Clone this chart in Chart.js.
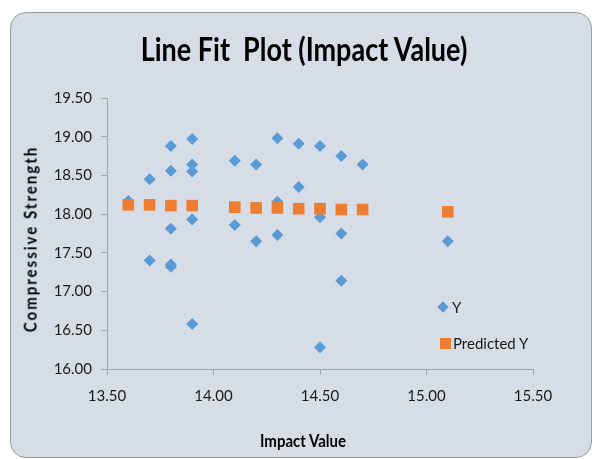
<!DOCTYPE html>
<html lang="en">
<head>
    <meta charset="UTF-8">
    <title>Line Fit Plot (Impact Value)</title>
    <script src="https://cdn.jsdelivr.net/npm/chart.js"></script>
    <style>
        body {
            margin: 0;
            background: #ffffff;
            font-family: Lato, "Open Sans", sans-serif;
        }

        #panel {
            position: absolute;
            left: 10px;
            top: 12px;
            width: 580px;
            height: 444px;
            background: #d6dde7;
            border: 1px solid #9c9c9c;
            border-radius: 16px;
        }

        #wrap {
            position: absolute;
            left: 0;
            top: 0;
            width: 592px;
            height: 459px;
        }

        .txt {
            position: absolute;
            white-space: nowrap;
            font-weight: bold;
            color: #000000;
        }

        #title {
            left: 304px;
            top: 48px;
            font-size: 27px;
            transform: translate(-50%, -50%) scale(1, 1.2);
        }

        #xtitle {
            left: 303px;
            top: 440px;
            font-size: 15px;
            transform: translate(-50%, -50%) scale(1, 1.15);
        }

        #ytitle {
            left: 30px;
            top: 239px;
            font-size: 15px;
            letter-spacing: 2px;
            transform: translate(-50%, -50%) rotate(-90deg) scale(1, 1.15);
        }

        .legend {
            position: absolute;
            font-size: 15px;
            color: #1a1a1a;
            line-height: 18px;
        }

        .diamond {
            position: absolute;
            width: 8px;
            height: 8px;
            background: #5b9bd5;
            transform: rotate(45deg);
        }

        .square {
            position: absolute;
            width: 11px;
            height: 11px;
            background: #ed7d31;
        }
    </style>
</head>
<body>
    <div id="panel"></div>
    <div id="wrap"><canvas id="scatter" width="592" height="459"></canvas></div>

    <div class="txt" id="title">Line Fit&nbsp; Plot (Impact Value)</div>
    <div class="txt" id="xtitle">Impact Value</div>
    <div class="txt" id="ytitle">Compressive Strength</div>

    <div class="diamond" style="left: 439px; top: 303px;"></div>
    <div class="legend" style="left: 452px; top: 298px;">Y</div>
    <div class="square" style="left: 440px; top: 338px;"></div>
    <div class="legend" style="left: 453px; top: 334px;">Predicted Y</div>

    <script type="text/javascript">

        // observed points
        const impactX = [13.6, 13.7, 13.7, 13.8, 13.8, 13.8, 13.8, 13.8, 13.9, 13.9, 13.9, 13.9, 13.9,
            14.1, 14.1, 14.2, 14.2, 14.3, 14.3, 14.3, 14.4, 14.4, 14.5, 14.5, 14.5,
            14.6, 14.6, 14.6, 14.7, 15.1];
        const strengthY = [18.17, 18.45, 17.40, 18.88, 18.56, 17.81, 17.35, 17.32, 18.97, 18.64, 18.55, 17.93, 16.58,
            18.69, 17.86, 18.64, 17.65, 18.98, 18.16, 17.73, 18.91, 18.35, 18.88, 17.96, 16.28,
            18.75, 17.75, 17.14, 18.64, 17.65];

        // fitted line
        const predX = [13.6, 13.7, 13.8, 13.9, 14.1, 14.2, 14.3, 14.4, 14.5, 14.6, 14.7, 15.1];
        const predY = [18.12, 18.12, 18.11, 18.11, 18.09, 18.08, 18.08, 18.07, 18.07, 18.06, 18.06, 18.03];

        const xTicks = [13.5, 14.0, 14.5, 15.0, 15.5];
        const yTicks = [16.0, 16.5, 17.0, 17.5, 18.0, 18.5, 19.0, 19.5];

        const toPoints = (xs, ys) => xs.map((x, i) => ({ x: x, y: ys[i] }));

        var ctx = document.getElementById('scatter').getContext('2d');
        var myChart = new Chart(ctx, {
            type: 'scatter',
            data: {
                datasets: [{
                    label: 'Predicted Y',
                    data: toPoints(predX, predY),
                    pointStyle: 'rect',
                    pointRadius: 8.2,
                    pointHoverRadius: 8.2,
                    backgroundColor: '#ed7d31',
                    borderWidth: 0,
                    order: 1
                }, {
                    label: 'Y',
                    data: toPoints(impactX, strengthY),
                    pointStyle: 'rectRot',
                    pointRadius: 6,
                    pointHoverRadius: 6,
                    backgroundColor: '#5b9bd5',
                    borderWidth: 0,
                    order: 2
                }]
            },
            options: {
                responsive: false,
                animation: false,
                layout: { padding: { left: 0, right: 59, top: 98, bottom: 0 } },
                plugins: {
                    legend: { display: false },
                    tooltip: { enabled: false }
                },
                scales: {
                    x: {
                        type: 'linear',
                        min: 13.5,
                        max: 15.5,
                        afterBuildTicks: s => { s.ticks = xTicks.map(v => ({ value: v })); },
                        afterFit: s => { s.height = 90; },
                        grid: { drawOnChartArea: false, tickLength: 6, color: '#a6a6a6' },
                        border: { color: '#a6a6a6' },
                        ticks: {
                            padding: 12,
                            color: '#1a1a1a',
                            font: { family: 'Lato', size: 15 },
                            callback: v => Number(v).toFixed(2)
                        }
                    },
                    y: {
                        type: 'linear',
                        min: 16,
                        max: 19.5,
                        afterBuildTicks: s => { s.ticks = yTicks.map(v => ({ value: v })); },
                        afterFit: s => { s.width = 107; },
                        grid: { drawOnChartArea: false, tickLength: 6, color: '#a6a6a6' },
                        border: { color: '#a6a6a6' },
                        ticks: {
                            padding: 9,
                            color: '#1a1a1a',
                            font: { family: 'Lato', size: 15 },
                            callback: v => Number(v).toFixed(2)
                        }
                    }
                }
            }
        });
    </script>
</body>
</html>
